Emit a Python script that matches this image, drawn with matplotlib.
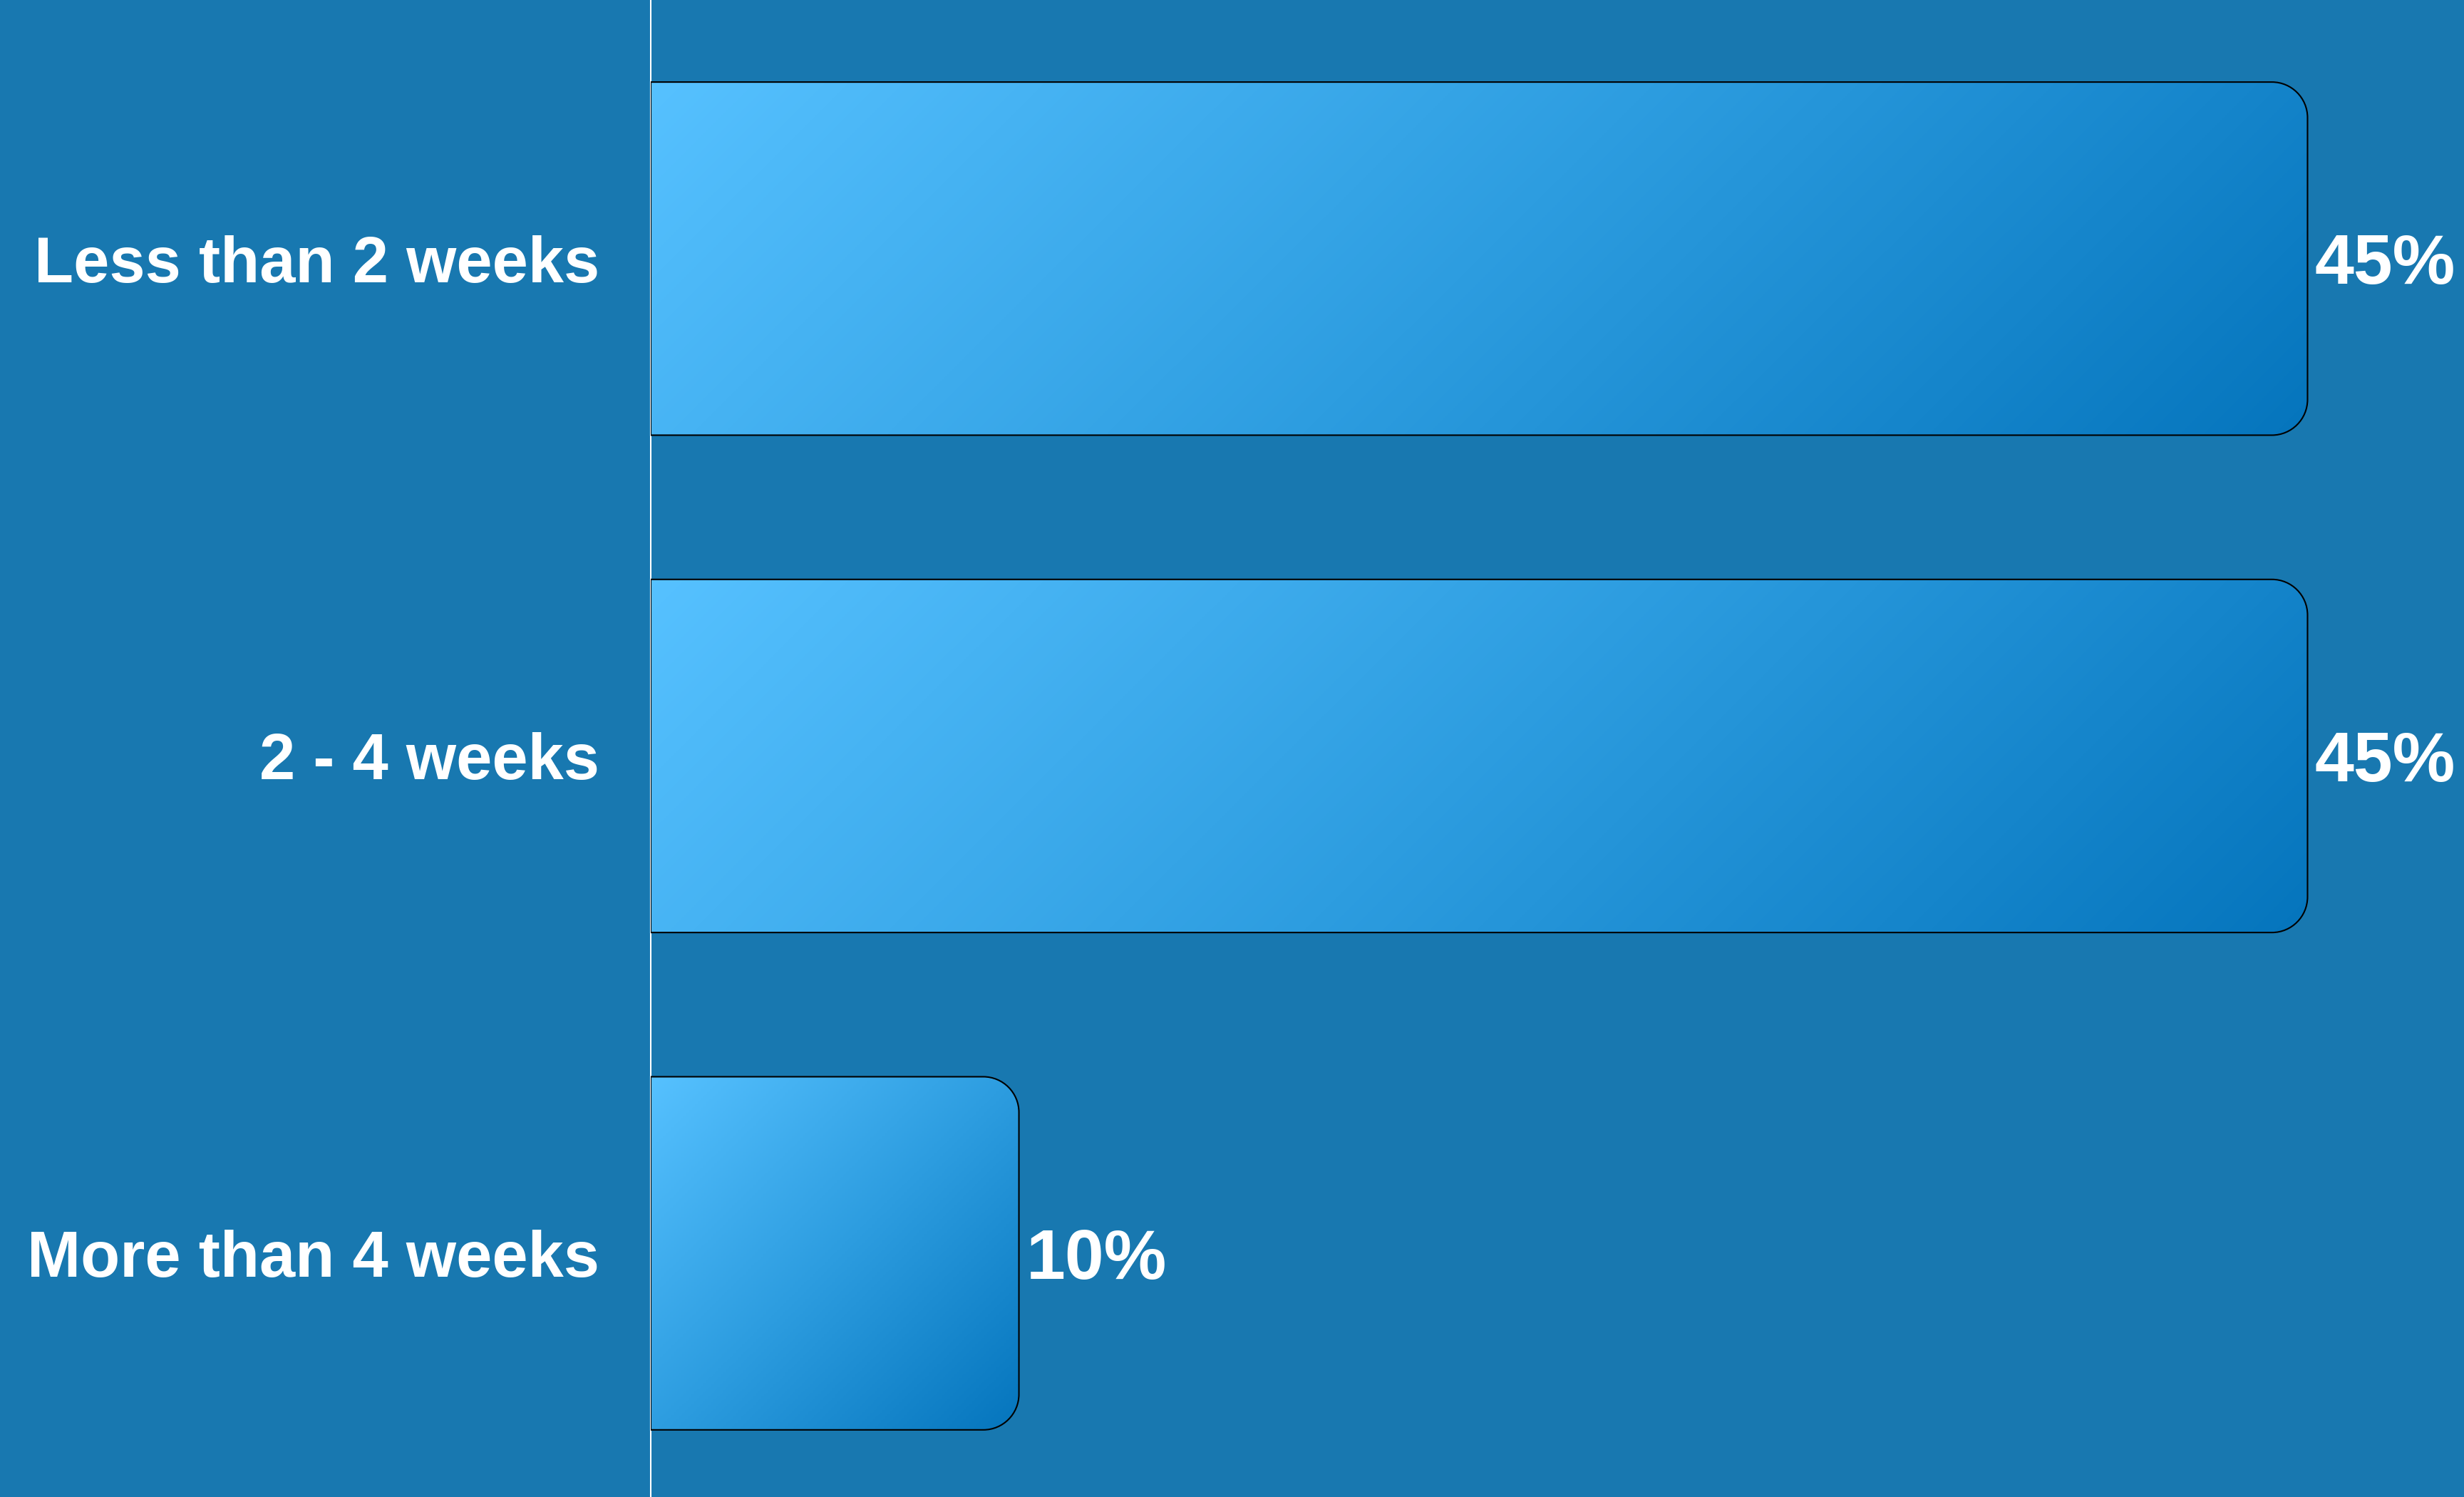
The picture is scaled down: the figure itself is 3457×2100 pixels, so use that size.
import matplotlib.pyplot as plt
import numpy as np
from matplotlib.path import Path
from matplotlib.patches import PathPatch
from matplotlib.colors import LinearSegmentedColormap

plt.rcParams['font.family'] = ['Liberation Sans', 'DejaVu Sans']

categories = ["Less than 2 weeks", "2 - 4 weeks", "More than 4 weeks"]
values = [45, 45, 10]

BG = '#1878b0'
bar_cmap = LinearSegmentedColormap.from_list('bar', ['#56c1ff', '#2d9de0', '#0575bd'])


def right_rounded(x0, y0, x1, y1, rx, ry):
    # rectangle with rounded corners on the right side only (y0 top, y1 bottom)
    k = 0.5523
    verts = [
        (x0, y0),
        (x1 - rx, y0),
        (x1 - rx + k * rx, y0), (x1, y0 + ry - k * ry), (x1, y0 + ry),
        (x1, y1 - ry),
        (x1, y1 - ry + k * ry), (x1 - rx + k * rx, y1), (x1 - rx, y1),
        (x0, y1),
        (x0, y0),
    ]
    codes = [Path.MOVETO, Path.LINETO,
             Path.CURVE4, Path.CURVE4, Path.CURVE4,
             Path.LINETO,
             Path.CURVE4, Path.CURVE4, Path.CURVE4,
             Path.LINETO, Path.CLOSEPOLY]
    return Path(verts, codes)


fig = plt.figure(figsize=(34.57, 21.0), dpi=100, facecolor=BG)
ax = fig.add_axes([913 / 3457, 0, 1 - 913 / 3457, 1])
ax.set_facecolor('none')

y = np.arange(len(categories))
bars = ax.barh(y, values, height=0.71, color='none', edgecolor='none')

ax.set_xlim(0, 49.25)
ax.set_ylim(2.49, -0.52)

# pixels -> data units for the corner radius
px_x = 49.25 / (3457 - 913)
px_y = (2.49 + 0.52) / 2100
r = 50

for rect in bars:
    x0, yc0 = rect.get_x(), rect.get_y()
    w, h = rect.get_width(), rect.get_height()
    path = right_rounded(x0, yc0, x0 + w, yc0 + h, r * px_x, r * px_y)
    patch = PathPatch(path, facecolor='none', edgecolor='black', lw=1.5, zorder=3)
    ax.add_patch(patch)
    # 135deg gradient in pixel space, light top-left to dark bottom-right
    wp, hp = w / px_x, h / px_y
    u = np.linspace(0, wp, 400)[None, :]
    v = np.linspace(0, hp, 120)[:, None]
    grad = (u + v) / (wp + hp)
    im = ax.imshow(grad, cmap=bar_cmap, extent=(x0, x0 + w, yc0 + h, yc0),
                   origin='upper', aspect='auto', zorder=2, interpolation='bilinear')
    im.set_clip_path(patch)

for i, v in enumerate(values):
    ax.annotate(f"{v}%", (v, i), xytext=(7, 0), textcoords='offset points',
                va='center_baseline', ha='left', color='white', fontsize=71,
                fontweight='bold')

ax.set_yticks(y)
ax.set_yticklabels(categories, color='white', fontsize=65, fontweight='bold',
                   va='center_baseline')
ax.tick_params(axis='y', length=0, pad=52)
ax.set_xticks([])

for s in ['top', 'right', 'bottom']:
    ax.spines[s].set_visible(False)
ax.spines['left'].set_color('white')
ax.spines['left'].set_linewidth(1.5)

fig.savefig('out.png', dpi=100, facecolor=BG)
